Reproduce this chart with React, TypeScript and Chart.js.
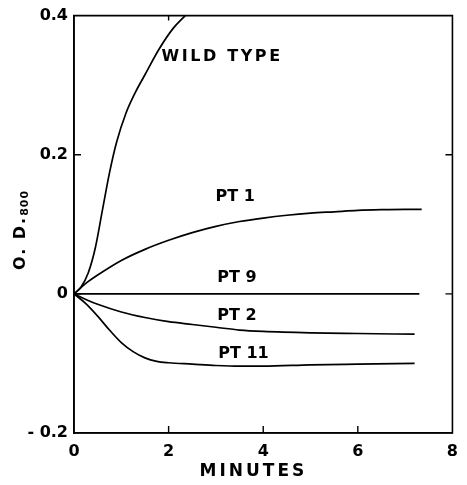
import React, { useEffect, useRef } from "react";
import { Chart, registerables } from "chart.js";

Chart.register(...registerables);

// ---- data (minutes vs O.D.800) ----
const wildTypeX = [0, 0.15, 0.3, 0.45, 0.6, 0.75, 0.9, 1.1, 1.3, 1.5, 1.8, 2.1, 2.35];
const wildTypeY = [0, 0.01, 0.03, 0.066, 0.12, 0.174, 0.218, 0.26, 0.29, 0.315, 0.352, 0.382, 0.4];

const pt1X = [0, 0.25, 0.5, 1.0, 1.5, 2.0, 2.5, 3.0, 3.5, 4.0, 4.5, 5.0, 5.5, 6.0, 6.5, 7.0, 7.35];
const pt1Y = [0, 0.015, 0.027, 0.048, 0.064, 0.077, 0.088, 0.097, 0.104, 0.109, 0.113, 0.116, 0.118, 0.12, 0.121, 0.1215, 0.1215];

const pt9X = [0, 7.3];
const pt9Y = [0, 0];

const pt2X = [0, 0.25, 0.5, 1.0, 1.5, 2.0, 2.5, 3.0, 3.5, 4.0, 5.0, 6.0, 7.2];
const pt2Y = [0, -0.008, -0.015, -0.026, -0.034, -0.04, -0.044, -0.048, -0.052, -0.054, -0.056, -0.057, -0.058];

const pt11X = [0, 0.25, 0.5, 0.75, 1.0, 1.25, 1.5, 1.75, 2.0, 2.5, 3.0, 3.5, 4.0, 5.0, 6.0, 7.2];
const pt11Y = [0, -0.014, -0.032, -0.052, -0.07, -0.083, -0.092, -0.097, -0.099, -0.101, -0.103, -0.104, -0.104, -0.102, -0.101, -0.1];

const xTicks = [0, 2, 4, 6, 8];
const yTicks = [-0.2, 0, 0.2, 0.4];

// curve labels (data coordinates: minutes, O.D.)
const labelTexts = ["WILD TYPE", "PT 1", "PT 9", "PT 2", "PT 11"];
const labelXs = [1.85, 2.99, 3.03, 3.03, 3.05];
const labelYs = [0.341, 0.139, 0.0225, -0.032, -0.0855];

const xTitle = "MINUTES";
const yTitleMain = "O. D.";
const yTitleSub = "800";

const FONT = "'DejaVu Sans', sans-serif";

const pts = (xs: number[], ys: number[]) => xs.map((x, i) => ({ x, y: ys[i] }));

const framePlugin = {
  id: "frame",
  afterDraw(chart: any) {
    const { ctx, chartArea } = chart;
    const xs = chart.scales.x;
    const ys = chart.scales.y;
    const { left, right, top, bottom } = chartArea;
    ctx.save();
    ctx.strokeStyle = "#000";
    ctx.lineWidth = 1.6;
    ctx.beginPath();
    ctx.moveTo(left, top);
    ctx.lineTo(right, top);
    ctx.lineTo(right, bottom);
    ctx.lineTo(left, bottom);
    ctx.closePath();
    ctx.stroke();
    // inward ticks
    const tl = 7;
    ctx.lineWidth = 1.4;
    ctx.beginPath();
    xTicks.forEach((v) => {
      if (v === xTicks[0] || v === xTicks[xTicks.length - 1]) return;
      const px = xs.getPixelForValue(v);
      ctx.moveTo(px, bottom);
      ctx.lineTo(px, bottom - tl);
    });
    const px2 = xs.getPixelForValue(2);
    ctx.moveTo(px2, top);
    ctx.lineTo(px2, top + 5);
    yTicks.forEach((v) => {
      if (v === yTicks[0] || v === yTicks[yTicks.length - 1]) return;
      const py = ys.getPixelForValue(v);
      ctx.moveTo(left, py);
      ctx.lineTo(left + tl, py);
      ctx.moveTo(right, py);
      ctx.lineTo(right - tl, py);
    });
    ctx.stroke();

    // curve labels
    ctx.fillStyle = "#000";
    ctx.textBaseline = "middle";
    ctx.textAlign = "left";
    ctx.font = `bold 16px ${FONT}`;
    labelTexts.forEach((t, i) => {
      (ctx as any).letterSpacing = i === 0 ? "2.6px" : "0px";
      ctx.fillText(t, xs.getPixelForValue(labelXs[i]), ys.getPixelForValue(labelYs[i]));
    });

    // x title
    (ctx as any).letterSpacing = "3px";
    ctx.font = `bold 17px ${FONT}`;
    ctx.textAlign = "center";
    ctx.fillText(xTitle, xs.getPixelForValue(3.75) + 2, 472);

    // y title (rotated, with subscript)
    ctx.translate(19, 230);
    ctx.rotate(-Math.PI / 2);
    (ctx as any).letterSpacing = "2px";
    ctx.font = `bold 16px ${FONT}`;
    const mainW = ctx.measureText(yTitleMain).width;
    ctx.font = `bold 11px ${FONT}`;
    (ctx as any).letterSpacing = "1px";
    const subW = ctx.measureText(yTitleSub).width;
    const total = mainW + subW;
    ctx.textAlign = "left";
    ctx.textBaseline = "alphabetic";
    ctx.font = `bold 16px ${FONT}`;
    (ctx as any).letterSpacing = "2px";
    ctx.fillText(yTitleMain, -total / 2, 6);
    ctx.font = `bold 11px ${FONT}`;
    (ctx as any).letterSpacing = "1px";
    ctx.fillText(yTitleSub, -total / 2 + mainW, 9);
    ctx.restore();
  },
};

export default function App() {
  const ref = useRef<HTMLCanvasElement | null>(null);
  useEffect(() => {
    if (!ref.current) return;
    const mk = (data: any[]) => ({
      data,
      borderColor: "#000",
      borderWidth: 1.7,
      pointRadius: 0,
      fill: false,
      cubicInterpolationMode: "monotone" as const,
    });
    const chart = new Chart(ref.current, {
      type: "line",
      data: {
        datasets: [
          mk(pts(wildTypeX, wildTypeY)),
          mk(pts(pt1X, pt1Y)),
          mk(pts(pt9X, pt9Y)),
          mk(pts(pt2X, pt2Y)),
          mk(pts(pt11X, pt11Y)),
        ],
      },
      options: {
        animation: false,
        responsive: false,
        maintainAspectRatio: false,
        layout: { padding: { top: 9, right: 8, left: 0, bottom: 0 } },
        plugins: { legend: { display: false }, tooltip: { enabled: false } },
        scales: {
          x: {
            type: "linear",
            min: 0,
            max: 8,
            afterFit: (s: any) => {
              s.height = 52;
            },
            afterBuildTicks: (s: any) => {
              s.ticks = xTicks.map((v) => ({ value: v }));
            },
            grid: { display: false, drawTicks: false },
            border: { display: true, color: "#000", width: 1.6 },
            ticks: {
              color: "#000",
              font: { family: FONT, size: 16, weight: "bold" },
              padding: 9,
              maxRotation: 0,
              callback: (v: any) => String(v),
            },
          },
          y: {
            type: "linear",
            min: -0.2,
            max: 0.4,
            afterFit: (s: any) => {
              s.width = 74;
            },
            afterBuildTicks: (s: any) => {
              s.ticks = yTicks.map((v) => ({ value: v }));
            },
            grid: { display: false, drawTicks: false },
            border: { display: true, color: "#000", width: 1.6 },
            ticks: {
              color: "#000",
              font: { family: FONT, size: 16, weight: "bold" },
              padding: 6,
              callback: (v: any) => {
                const n = Number(v);
                if (Math.abs(n) < 1e-9) return "0";
                return n < 0 ? "- " + Math.abs(n).toFixed(1) : n.toFixed(1);
              },
            },
          },
        },
      },
      plugins: [framePlugin],
    });
    return () => chart.destroy();
  }, []);
  return (
    <div style={{ position: "absolute", left: 0, top: 0, width: 467, height: 485, background: "#fff" }}>
      <canvas ref={ref} width={467} height={485} style={{ width: 467, height: 485 }} />
    </div>
  );
}
